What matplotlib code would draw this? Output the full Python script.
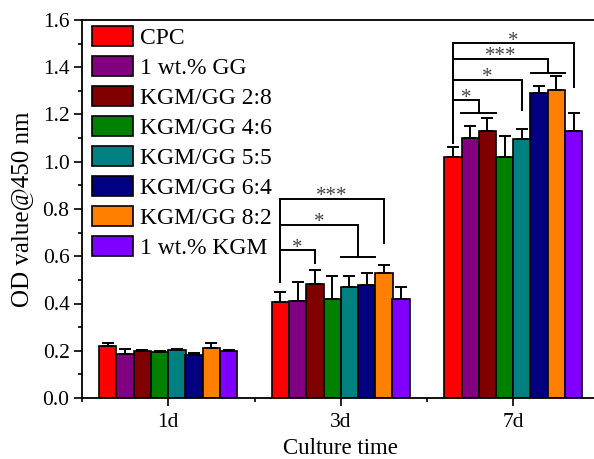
import matplotlib
matplotlib.use("Agg")
import matplotlib.pyplot as plt
import numpy as np
from matplotlib.ticker import MultipleLocator, FormatStrFormatter

plt.rcParams['font.family'] = ['Liberation Serif', 'DejaVu Serif']

groups = ['1d', '3d', '7d']
series = ['CPC', '1 wt.% GG', 'KGM/GG 2:8', 'KGM/GG 4:6', 'KGM/GG 5:5',
          'KGM/GG 6:4', 'KGM/GG 8:2', '1 wt.% KGM']
colors = ['#FF0000', '#800080', '#800000', '#008000', '#008080',
          '#000080', '#FF8000', '#8000FF']

means_1d = [0.222, 0.185, 0.199, 0.194, 0.202, 0.184, 0.210, 0.200]
err_1d = [0.010, 0.022, 0.005, 0.004, 0.005, 0.005, 0.023, 0.005]
means_3d = [0.408, 0.410, 0.484, 0.419, 0.470, 0.477, 0.528, 0.419]
err_3d = [0.040, 0.080, 0.056, 0.096, 0.045, 0.053, 0.035, 0.051]
means_7d = [1.019, 1.099, 1.130, 1.021, 1.095, 1.290, 1.302, 1.131]
err_7d = [0.043, 0.052, 0.055, 0.087, 0.044, 0.029, 0.061, 0.077]

# significance brackets: group index, right bar position (bar index, .5 = span of two bars)
br_group = [1, 1, 1, 2, 2, 2, 2]
br_right = [2, 4.5, 6, 1.5, 4, 5.5, 7]
br_top = [0.626, 0.732, 0.842, 1.261, 1.346, 1.435, 1.501]
br_end = [0.570, 0.598, 0.655, 1.205, 1.219, 1.374, 1.318]
br_label = ['*', '*', '***', '*', '*', '***', '*']
br_start = {1: 0.492, 2: 1.078}

means = np.array([means_1d, means_3d, means_7d])
errs = np.array([err_1d, err_3d, err_7d])

W, H = 594, 459
fig = plt.figure(figsize=(W / 100, H / 100), dpi=100)
ax = fig.add_axes([82 / W, (H - 398) / H, 517.5 / W, 378 / H])

x = np.arange(1, len(groups) + 1)
bw = 0.1
n = len(series)
for i in range(n):
    xs = x + (i - (n - 1) / 2) * bw
    ax.bar(xs, means[:, i], width=bw, color=colors[i], edgecolor='black',
           linewidth=1.2, label=series[i], zorder=2)
    ax.errorbar(xs, means[:, i], yerr=[np.zeros(len(groups)), errs[:, i]],
                fmt='none', ecolor='black', elinewidth=1.4, capsize=4,
                capthick=1.4, zorder=3)

def barx(g, b):
    return x[g] + (b - (n - 1) / 2) * bw

for g, r, top, end, lab in zip(br_group, br_right, br_top, br_end, br_label):
    xl = barx(g, 0)
    xr = barx(g, r)
    ax.plot([xl, xl, xr, xr], [br_start[g], top, top, end], color='black',
            lw=1.4, zorder=4, solid_joinstyle='miter')
    if r % 1 != 0:
        ax.plot([xr - bw, xr + bw], [end, end], color='black', lw=1.4, zorder=4)
    ax.annotate(lab, xy=((xl + xr) / 2, top), xytext=(0, 1.5),
                textcoords='offset points', ha='center', va='center',
                fontsize=15, color='#444444')

ax.set_xlim(0.5, 3.5)
ax.set_ylim(0, 1.6)
ax.set_xticks(x)
ax.set_xticklabels(groups)
ax.xaxis.set_minor_locator(MultipleLocator(0.5))
ax.yaxis.set_major_locator(MultipleLocator(0.2))
ax.yaxis.set_minor_locator(MultipleLocator(0.1))
ax.yaxis.set_major_formatter(FormatStrFormatter('%.1f'))
ax.tick_params(axis='both', which='major', direction='out', length=6,
               width=1.2, labelsize=15.5, pad=3)
ax.tick_params(axis='x', which='major', pad=5)
ax.tick_params(axis='both', which='minor', direction='out', length=3, width=1.2)
for s in ax.spines.values():
    s.set_linewidth(1.3)

ax.set_xlabel('Culture time', fontsize=16.5, labelpad=4)
ax.set_ylabel('OD value@450 nm', fontsize=18, labelpad=7)

leg = ax.legend(loc='upper left', bbox_to_anchor=(92 / W, 1 - 26 / H),
                bbox_transform=fig.transFigure, frameon=False, fontsize=17,
                borderpad=0, borderaxespad=0, handlelength=1.75,
                handleheight=0.9, handletextpad=0.3, labelspacing=0.3)
for p in leg.get_patches():
    p.set_linewidth(1.2)

fig.savefig('out.png', dpi=100)
